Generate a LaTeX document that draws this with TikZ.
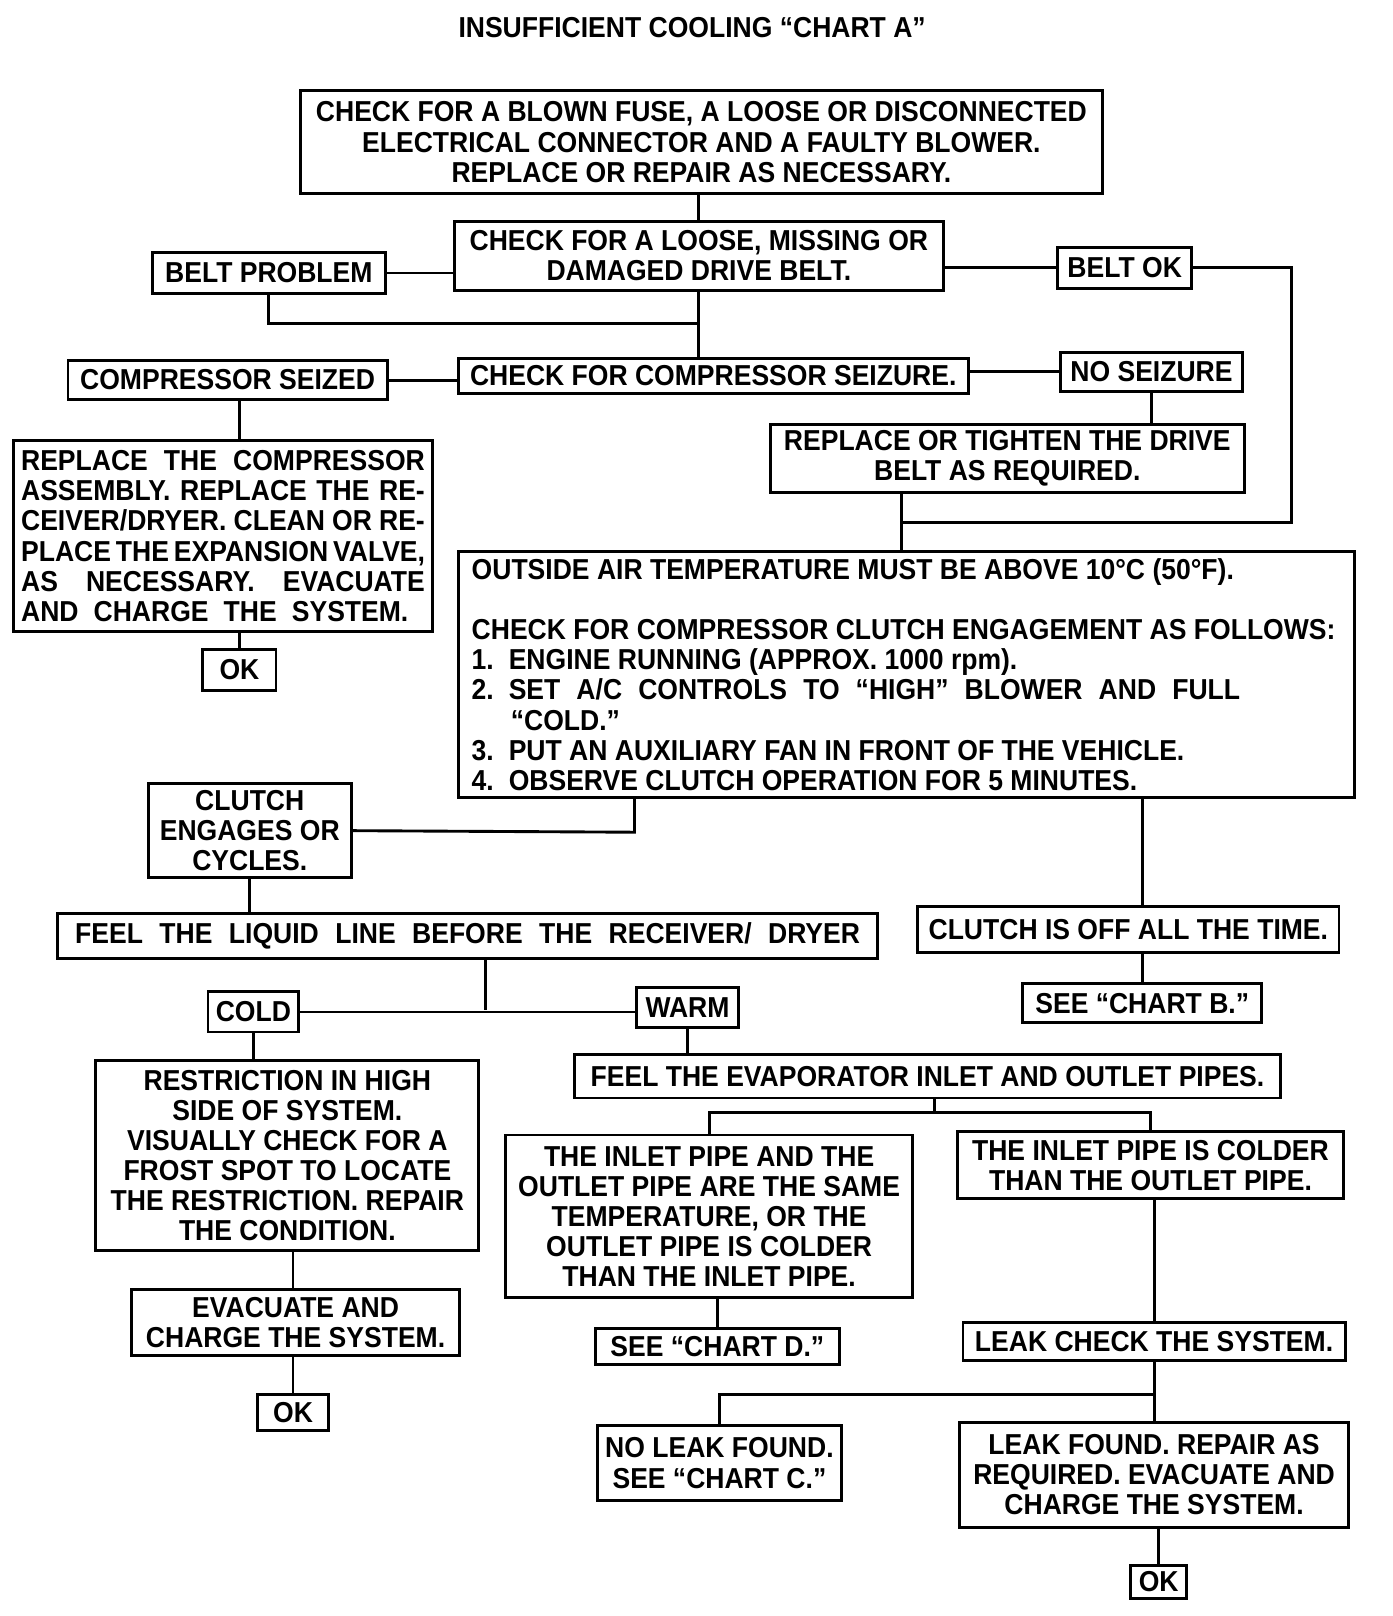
\documentclass[tikz,border=0pt]{standalone}
\usepackage{fontspec}
\newfontfamily\chartfont[FakeStretch=0.92]{Liberation Sans}
\tikzset{
	box/.style 2 args={draw, line width=1.4pt, minimum width=#1*0.5pt, minimum height=#2*0.5pt, inner sep=1pt, align=center},
	link/.style={line width=1.4pt},
}

\begin{document}
\begin{tikzpicture}[x=0.5pt, y=-0.5pt, font=\chartfont\bfseries\fontsize{14}{14.6}\selectfont]
				\fill[white] (0,0) rectangle (1352,1569);
				\useasboundingbox (0,0) rectangle (1352,1569);
				
				\node (title) at (672,27) {INSUFFICIENT COOLING “CHART A”};
				
				\node[box={778}{100}] (fuse) at (681,138) {CHECK FOR A BLOWN FUSE, A LOOSE OR DISCONNECTED\\ELECTRICAL CONNECTOR AND A FAULTY BLOWER.\\REPLACE OR REPAIR AS NECESSARY.};
				\node[box={475}{67}] (beltchk) at (678.5,248.5) {CHECK FOR A LOOSE, MISSING OR\\DAMAGED DRIVE BELT.};
				\node[box={226}{40}] (beltprob) at (261,265) {BELT PROBLEM};
				\node[box={130}{40}] (beltok) at (1092,260) {BELT OK};
				
				\node[box={495}{34}] (compchk) at (692.5,365) {CHECK FOR COMPRESSOR SEIZURE.};
				\node[box={310}{38}] (seized) at (221,369) {COMPRESSOR SEIZED};
				\node[box={176}{38}] (noseiz) at (1118,361) {NO SEIZURE};
				\node[box={460}{66}] (tighten) at (978,445) {REPLACE OR TIGHTEN THE DRIVE\\BELT AS REQUIRED.};
				
				\node[box={407}{185}, align=left] (replcomp) at (216.5,520.5) {\makebox[196pt][s]{REPLACE THE COMPRESSOR}\\\makebox[196pt][s]{ASSEMBLY. REPLACE THE RE-}\\\makebox[196pt][s]{CEIVER/DRYER. CLEAN OR RE-}\\\makebox[196pt][s]{PLACE THE EXPANSION VALVE,}\\\makebox[196pt][s]{AS NECESSARY. EVACUATE}\\\makebox[188pt][s]{AND CHARGE THE SYSTEM.}};
				\node[box={71}{39}] (ok1) at (232.5,650.5) {OK};
				
				\node[box={870}{239}, text width=422pt, align=flush left] (clutchchk) at (880,655) {OUTSIDE AIR TEMPERATURE MUST BE ABOVE 10°C (50°F).\\[14.6pt]
					\mbox{CHECK FOR COMPRESSOR CLUTCH ENGAGEMENT AS FOLLOWS:}\\
					\makebox[18pt][l]{1.}ENGINE RUNNING (APPROX. 1000 rpm).\\
					\makebox[18pt][l]{2.}\makebox[355pt][s]{SET A/C CONTROLS TO “HIGH” BLOWER AND FULL}\\
					\hspace*{19pt}“COLD.”\\
					\makebox[18pt][l]{3.}PUT AN AUXILIARY FAN IN FRONT OF THE VEHICLE.\\
					\makebox[18pt][l]{4.}OBSERVE CLUTCH OPERATION FOR 5 MINUTES.};
				
				\node[box={197}{91}] (engages) at (242.5,806.5) {CLUTCH\\ENGAGES OR\\CYCLES.};
				\node[box={409}{45}] (clutchoff) at (1095.5,902.5) {CLUTCH IS OFF ALL THE TIME.};
				\node[box={232}{38}] (chartb) at (1109,974) {SEE “CHART B.”};
				\node[box={796}{44}] (liquid) at (454,909) {\makebox[381pt][s]{FEEL THE LIQUID LINE BEFORE THE RECEIVER/ DRYER}};
				\node[box={88}{39}] (cold) at (246,982.5) {COLD};
				\node[box={99}{39}] (warm) at (667.5,978.5) {WARM};
				
				\node[box={372}{184}] (restrict) at (279,1122) {RESTRICTION IN HIGH\\SIDE OF SYSTEM.\\VISUALLY CHECK FOR A\\FROST SPOT TO LOCATE\\THE RESTRICTION. REPAIR\\THE CONDITION.};
				\node[box={318}{64}] (evac) at (287,1284) {EVACUATE AND\\CHARGE THE SYSTEM.};
				\node[box={69}{35}] (ok2) at (284.5,1371.5) {OK};
				
				\node[box={685}{42}] (evap) at (900.5,1045) {FEEL THE EVAPORATOR INLET AND OUTLET PIPES.};
				\node[box={395}{158}] (same) at (688.5,1181) {THE INLET PIPE AND THE\\OUTLET PIPE ARE THE SAME\\TEMPERATURE, OR THE\\OUTLET PIPE IS COLDER\\THAN THE INLET PIPE.};
				\node[box={374}{65}] (colder) at (1117,1131.5) {THE INLET PIPE IS COLDER\\THAN THE OUTLET PIPE.};
				\node[box={237}{35}] (chartd) at (696.5,1307.5) {SEE “CHART D.”};
				\node[box={371}{37}] (leakchk) at (1120.5,1302.5) {LEAK CHECK THE SYSTEM.};
				\node[box={237}{73}] (noleak) at (698.5,1420.5) {NO LEAK FOUND.\\SEE “CHART C.”};
				\node[box={377}{102}] (leak) at (1120.5,1432) {LEAK FOUND. REPAIR AS\\REQUIRED. EVACUATE AND\\CHARGE THE SYSTEM.};
				\node[box={54}{32}] (ok3) at (1125,1536) {OK};
				
				% junctions
				\coordinate (j1) at (679,314);
				\coordinate (j2) at (875,507);
				\coordinate (c1) at (1254,507);
				\coordinate (j3) at (616,808);
				\coordinate (j4) at (471,981);
				\coordinate (j5) at (907,1080);
				\coordinate (j6) at (1120.5,1354);
				
				\draw[link] (beltchk.north) -- (beltchk.north |- fuse.south);
				\draw[link] (beltprob.east) -- (beltprob.east -| beltchk.west);
				\draw[link] (beltok.west) -- (beltok.west -| beltchk.east);
				\draw[link] (beltprob.south) |- (j1);
				\draw[link] (beltchk.south) -- (beltchk.south |- compchk.north);
				\draw[link] (seized.east) -- (seized.east -| compchk.west);
				\draw[link] (noseiz.west) -- (noseiz.west -| compchk.east);
				\draw[link] (noseiz.south) -- (noseiz.south |- tighten.north);
				\draw[link] (beltok.east) -| (c1) -- (j2);
				\draw[link] (j2 |- tighten.south) -- (j2 |- clutchchk.north);
				\draw[link] (ok1 |- seized.south) -- (ok1 |- replcomp.north);
				\draw[link] (ok1.north) -- (ok1 |- replcomp.south);
				
				\draw[link] (engages.east) -- (j3) -- (j3 |- clutchchk.south);
				\draw[link] (chartb.north |- clutchchk.south) -- (chartb.north |- clutchoff.north);
				\draw[link] (chartb.north) -- (chartb.north |- clutchoff.south);
				\draw[link] (engages.south) -- (engages.south |- liquid.north);
				\draw[link] (j4 |- liquid.south) -- (j4);
				\draw[link] (cold.east) -- (cold.east -| warm.west);
				\draw[link] (cold.south) -- (cold.south |- restrict.north);
				\draw[link] (ok2 |- restrict.south) -- (ok2 |- evac.north);
				\draw[link] (ok2.north) -- (ok2 |- evac.south);
				
				\draw[link] (warm.south) -- (warm.south |- evap.north);
				\draw[link] (j5 |- evap.south) -- (j5);
				\draw[link] (same.north) |- (j5) -| (colder.north);
				\draw[link] (chartd.north) -- (chartd.north |- same.south);
				\draw[link] (leakchk.north) -- (leakchk.north |- colder.south);
				\draw[link] (leakchk.south) -- (leak.north);
				\draw[link] (noleak.north) |- (j6);
				\draw[link] (ok3.north) -- (ok3 |- leak.south);
			\end{tikzpicture}
\end{document}
